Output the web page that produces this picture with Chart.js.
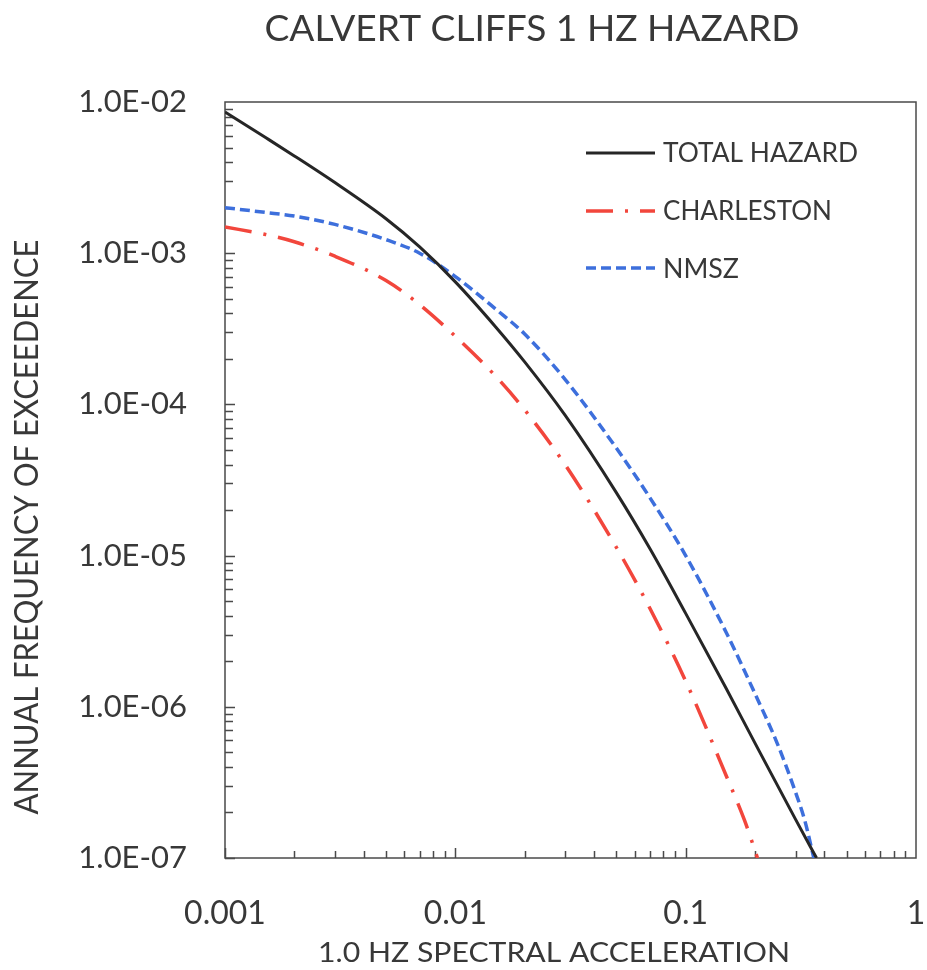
<!DOCTYPE html>
<html>
<head>
<meta charset="utf-8">
<script src="https://cdn.jsdelivr.net/npm/chart.js@4.4.1/dist/chart.umd.min.js"></script>
<style>
html, body { margin: 0; padding: 0; background: #fff; }
#wrap { width: 927px; height: 970px; }
</style>
</head>
<body>
<div id="wrap"><canvas id="hazardChart" width="927" height="970"></canvas></div>
<script>
// --- DATA ---
const totalAccel = [0.001, 0.0015, 0.002, 0.003, 0.005, 0.007, 0.01, 0.015, 0.02, 0.03, 0.05, 0.07, 0.1, 0.15, 0.2, 0.3, 0.37];
const totalHazard = [8.59e-3, 5.82e-3, 4.4e-3, 2.93e-3, 1.69e-3, 1.1e-3, 6.46e-4, 3.24e-4, 1.91e-4, 8.45e-5, 2.61e-5, 1.11e-5, 4.15e-6, 1.32e-6, 5.75e-7, 1.8e-7, 1.0e-7];
const charlestonAccel = [0.001, 0.0015, 0.002, 0.003, 0.005, 0.007, 0.01, 0.015, 0.02, 0.03, 0.05, 0.07, 0.1, 0.15, 0.18, 0.205];
const charleston = [1.49e-3, 1.33e-3, 1.19e-3, 9.55e-4, 6.6e-4, 4.57e-4, 2.82e-4, 1.53e-4, 9.2e-5, 3.98e-5, 1.135e-5, 4.47e-6, 1.48e-6, 3.5e-7, 1.78e-7, 1.0e-7];
const nmszAccel = [0.001, 0.0015, 0.002, 0.003, 0.005, 0.007, 0.01, 0.015, 0.02, 0.03, 0.05, 0.07, 0.1, 0.15, 0.2, 0.25, 0.3, 0.33, 0.36];
const nmsz = [2.0e-3, 1.86e-3, 1.76e-3, 1.55e-3, 1.23e-3, 1.0e-3, 7.0e-4, 4.26e-4, 2.92e-4, 1.46e-4, 5.14e-5, 2.41e-5, 1.0e-5, 3.1e-6, 1.22e-6, 5.71e-7, 2.72e-7, 1.74e-7, 1.0e-7];
const xTicks = [0.001, 0.01, 0.1, 1];
const yTicks = [1e-2, 1e-3, 1e-4, 1e-5, 1e-6, 1e-7];

const FONT = 'Lato, "Open Sans", sans-serif';
const TEXT = '#383838';

function toPoints(xs, ys) {
    return xs.map((x, i) => ({ x: x, y: ys[i] }));
}

// text squeezed to a given width (the original uses a narrow font)
function drawFitted(ctx, text, x, y, width, size, align) {
    ctx.font = size + 'px ' + FONT;
    const w = ctx.measureText(text).width;
    const sx = width / w;
    ctx.save();
    ctx.translate(x, y);
    ctx.scale(sx, 1);
    ctx.textAlign = align || 'center';
    ctx.textBaseline = 'alphabetic';
    ctx.fillText(text, 0, 0);
    ctx.restore();
}

// --- frame + inside minor ticks ---
const framePlugin = {
    id: 'frame',
    beforeDatasetsDraw(chart) {
        const { ctx, chartArea: a, scales: { x, y } } = chart;
        ctx.save();
        ctx.strokeStyle = '#4a4a4a';
        ctx.lineWidth = 1.5;
        ctx.strokeRect(a.left, a.top, a.right - a.left, a.bottom - a.top);
        ctx.beginPath();
        for (let e = -7; e < -2; e++) {
            for (let m = 1; m <= 9; m++) {
                const py = Math.round(y.getPixelForValue(m * Math.pow(10, e))) + 0.5;
                const len = m === 1 ? 10 : 8;
                ctx.moveTo(a.left, py);
                ctx.lineTo(a.left + len, py);
            }
        }
        for (let e = -3; e < 0; e++) {
            for (let m = 1; m <= 9; m++) {
                const px = Math.round(x.getPixelForValue(m * Math.pow(10, e))) + 0.5;
                const len = m === 1 ? 10 : 7;
                ctx.moveTo(px, a.bottom);
                ctx.lineTo(px, a.bottom - len);
            }
        }
        ctx.stroke();
        ctx.restore();
    }
};

// --- title, axis titles, legend ---
const textPlugin = {
    id: 'texts',
    afterDraw(chart) {
        const { ctx } = chart;
        ctx.save();
        ctx.fillStyle = TEXT;
        drawFitted(ctx, 'CALVERT CLIFFS 1 HZ HAZARD', 532, 41, 535, 36);
        drawFitted(ctx, '1.0 HZ SPECTRAL ACCELERATION', 554, 962, 472, 27);
        ctx.save();
        ctx.translate(38, 527);
        ctx.rotate(-Math.PI / 2);
        drawFitted(ctx, 'ANNUAL FREQUENCY OF EXCEEDENCE', 0, 0, 575, 32);
        ctx.restore();

        // legend
        const rows = [
            { ds: 0, y: 153, base: 162, w: 195 },
            { ds: 1, y: 211, base: 220, w: 169 },
            { ds: 2, y: 268, base: 278, w: 76 }
        ];
        rows.forEach(r => {
            const ds = chart.data.datasets[r.ds];
            ctx.save();
            ctx.strokeStyle = ds.borderColor;
            ctx.lineWidth = ds.borderWidth;
            ctx.setLineDash(ds.borderDash || []);
            ctx.beginPath();
            ctx.moveTo(586, r.y);
            ctx.lineTo(655, r.y);
            ctx.stroke();
            ctx.restore();
            ctx.fillStyle = TEXT;
            drawFitted(ctx, ds.label, 663, r.base, r.w, 26, 'left');
        });
        ctx.restore();
    }
};

const ctxHazard = document.getElementById('hazardChart').getContext('2d');
new Chart(ctxHazard, {
    type: 'line',
    data: {
        datasets: [
            {
                label: 'TOTAL HAZARD',
                data: toPoints(totalAccel, totalHazard),
                borderColor: '#262626',
                borderWidth: 3,
                cubicInterpolationMode: 'monotone',
                pointRadius: 0
            },
            {
                label: 'CHARLESTON',
                data: toPoints(charlestonAccel, charleston),
                borderColor: '#f2463c',
                borderWidth: 3.5,
                borderDash: [27, 12, 3, 12],
                cubicInterpolationMode: 'monotone',
                pointRadius: 0
            },
            {
                label: 'NMSZ',
                data: toPoints(nmszAccel, nmsz),
                borderColor: '#3d6fdc',
                borderWidth: 3.5,
                borderDash: [10, 5],
                cubicInterpolationMode: 'monotone',
                pointRadius: 0
            }
        ]
    },
    options: {
        responsive: false,
        animation: false,
        layout: { padding: { top: 102, right: 11, left: 0, bottom: 0 } },
        plugins: {
            legend: { display: false },
            tooltip: { enabled: false },
            title: { display: false }
        },
        scales: {
            x: {
                type: 'logarithmic',
                min: 0.001,
                max: 1,
                grid: { display: false, drawTicks: false },
                border: { display: false },
                afterBuildTicks: s => { s.ticks = xTicks.map(v => ({ value: v })); },
                afterFit: s => { s.height = 112; s.paddingLeft = 0; s.paddingRight = 0; },
                ticks: {
                    autoSkip: false,
                    maxRotation: 0,
                    padding: 36,
                    color: TEXT,
                    font: { family: FONT, size: 32 },
                    callback: v => String(v)
                }
            },
            y: {
                type: 'logarithmic',
                min: 1e-7,
                max: 1e-2,
                grid: { display: false, drawTicks: false },
                border: { display: false },
                afterBuildTicks: s => { s.ticks = yTicks.map(v => ({ value: v })); },
                afterFit: s => { s.width = 225; s.paddingTop = 0; s.paddingBottom = 0; },
                ticks: {
                    autoSkip: false,
                    padding: 38,
                    color: TEXT,
                    font: { family: FONT, size: 31 },
                    callback: v => '1.0E-' + String(-Math.round(Math.log10(v))).padStart(2, '0')
                }
            }
        }
    },
    plugins: [framePlugin, textPlugin]
});
</script>
</body>
</html>
